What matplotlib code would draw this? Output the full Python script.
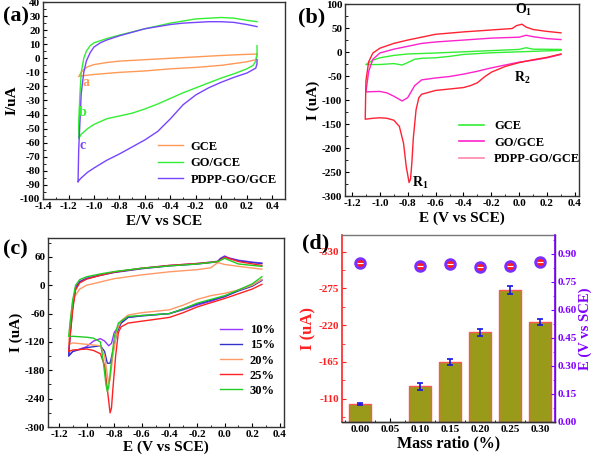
import matplotlib
matplotlib.use('Agg')
import matplotlib.pyplot as plt
from matplotlib.lines import Line2D
from matplotlib.ticker import MultipleLocator, FormatStrFormatter

# ---------------- data: panel (a) ----------------
a_gce_E = [0.28, 0.2, 0.0, -0.2, -0.4, -0.6, -0.8, -0.9, -1.0, -1.05, -1.08, -1.1, -1.12,
           -1.1, -1.0, -0.8, -0.6, -0.4, -0.2, 0.0, 0.2, 0.27, 0.28]
a_gce_I = [3, 2.8, 2, 1, 0, -1, -2, -3, -4.5, -6, -8, -10, -13,
           -12.5, -11.5, -10, -9, -7.5, -6.5, -5, -2.5, -1, 3]
a_go_E = [0.28, 0.2, 0.1, 0.0, -0.1, -0.2, -0.4, -0.6, -0.8, -0.9, -0.95, -1.0, -1.03, -1.06, -1.08,
          -1.1, -1.11, -1.12, -1.12, -1.1, -1.05, -1.0, -0.9, -0.8, -0.7, -0.6, -0.5, -0.4, -0.3,
          -0.2, -0.1, 0.0, 0.1, 0.2, 0.25, 0.27, 0.28, 0.28]
a_go_I = [26, 27, 28.5, 29, 28.5, 28, 25, 21, 16.5, 14, 12.5, 11, 9, 5, 0,
          -10, -25, -45, -57, -54, -50, -47, -43, -41, -39, -36, -32.5, -28.5, -24.5,
          -21, -17.5, -14, -11, -7.5, -5, -2, 2, 9]
a_pdpp_E = [0.28, 0.2, 0.1, 0.0, -0.1, -0.2, -0.3, -0.4, -0.6, -0.8, -0.9, -0.95, -1.0, -1.03, -1.06,
            -1.08, -1.1, -1.11, -1.12, -1.125, -1.12, -1.1, -1.05, -1.0, -0.9, -0.8, -0.7, -0.6,
            -0.5, -0.4, -0.3, -0.2, -0.1, 0.0, 0.1, 0.2, 0.27, 0.28, 0.28]
a_pdpp_I = [22.5, 24, 25.5, 26, 26, 25.5, 25, 24, 21, 16, 13, 11, 8, 4, -2,
            -10, -25, -45, -65, -88, -87, -85, -81, -78, -72.5, -68, -63, -58,
            -52, -43, -33, -26, -21, -17, -13.5, -10.5, -7, -4, -1]

# ---------------- data: panel (b) ----------------
b_gce_E = [0.3, 0.1, 0.05, 0.0, -0.2, -0.4, -0.6, -0.8, -0.9, -1.0, -1.05, -1.1,
           -1.0, -0.9, -0.84, -0.8, -0.75, -0.7, -0.6, -0.5, -0.4, -0.2, 0.0, 0.2, 0.3]
b_gce_I = [5.5, 6, 9, 5.5, 3, 0.5, -2, -4, -7, -12, -17, -26,
           -26, -24, -27, -22, -15, -13, -12, -9, -5, -1.5, 0.5, 2.5, 3.5]
b_go_E = [0.3, 0.2, 0.1, 0.05, 0.0, -0.2, -0.4, -0.6, -0.7, -0.8, -0.9, -1.0, -1.05, -1.08, -1.1,
          -1.0, -0.95, -0.9, -0.84, -0.8, -0.75, -0.7, -0.6, -0.5, -0.4, -0.3, -0.2, -0.1,
          0.0, 0.1, 0.2, 0.3]
b_go_I = [26, 28, 32, 35, 31, 29, 25, 21, 18, 12, 6, -2, -15, -40, -83,
          -82, -85, -92, -102, -95, -70, -58, -54, -51, -46, -40, -33, -27,
          -21, -17, -12, -5]
b_pdpp_E = [0.3, 0.2, 0.1, 0.05, 0.02, -0.02, -0.05, -0.2, -0.4, -0.6, -0.8, -0.9, -1.0, -1.05,
            -1.08, -1.1, -1.105, -1.05, -1.0, -0.95, -0.9, -0.86, -0.83, -0.81, -0.79, -0.78,
            -0.77, -0.76, -0.74, -0.72, -0.7, -0.6, -0.5, -0.4, -0.35, -0.3, -0.25, -0.2, -0.1,
            0.0, 0.1, 0.2, 0.3]
b_pdpp_I = [40, 43, 47, 52, 58, 55, 49, 46, 42, 37, 25, 18, 8, -2,
            -20, -60, -140, -138, -137, -138, -142, -155, -190, -240, -272, -265,
            -230, -180, -120, -95, -88, -80, -77, -74, -70, -64, -52, -42, -30,
            -22, -16, -11, -4]

# ---------------- data: panel (c) ----------------
c_labels = ['10%', '15%', '20%', '25%', '30%']
c10_E = [0.27, 0.2, 0.1, 0.03, 0.0, -0.03, -0.05, -0.1, -0.2, -0.4, -0.6, -0.8, -0.9, -1.0, -1.05,
         -1.08, -1.1, -1.12, -1.13, -1.1, -1.0, -0.95, -0.9, -0.87, -0.84, -0.82, -0.8, -0.75,
         -0.7, -0.6, -0.5, -0.4, -0.3, -0.2, -0.1, 0.0, 0.1, 0.2, 0.27]
c10_I = [47, 49, 53, 58, 62, 57, 51, 49, 46, 42, 36, 28, 22, 15, 8,
         -5, -40, -100, -148, -140, -130, -118, -113, -118, -128, -123, -100, -80,
         -68, -64, -62, -60, -52, -42, -34, -24, -10, 0, 12]
c15_E = [0.27, 0.2, 0.1, 0.03, 0.0, -0.03, -0.05, -0.1, -0.2, -0.4, -0.6, -0.8, -0.9, -1.0, -1.05,
         -1.08, -1.1, -1.12, -1.13, -1.1, -1.0, -0.9, -0.87, -0.85, -0.83, -0.81, -0.78, -0.75,
         -0.7, -0.6, -0.4, -0.3, -0.2, -0.1, 0.0, 0.1, 0.2, 0.27]
c15_I = [46, 48, 52, 57, 60, 56, 50, 48, 45, 41, 35, 27, 21, 14, 7,
         -6, -45, -105, -150, -140, -132, -128, -140, -165, -165, -140, -100, -80,
         -68, -65, -60, -50, -40, -32, -24, -12, -2, 10]
c20_E = [0.27, 0.1, 0.0, -0.05, -0.1, -0.2, -0.4, -0.6, -0.8, -0.9, -1.0, -1.05, -1.1, -1.12, -1.13,
         -1.1, -1.0, -0.9, -0.87, -0.85, -0.84, -0.83, -0.81, -0.78, -0.75, -0.7, -0.6, -0.4,
         -0.3, -0.2, -0.1, 0.0, 0.1, 0.2, 0.27]
c20_I = [34, 40, 44, 48, 37, 33, 28.5, 22, 14, 7, 0, -8, -30, -80, -125,
         -122, -125, -128, -150, -190, -208, -200, -150, -95, -75, -63, -58, -52,
         -42, -30, -22, -17, -10, 0, 12]
c25_E = [0.27, 0.1, 0.02, 0.0, -0.05, -0.2, -0.4, -0.6, -0.8, -0.9, -1.0, -1.05, -1.08, -1.1, -1.12,
         -1.13, -1.1, -1.0, -0.95, -0.9, -0.87, -0.85, -0.83, -0.82, -0.81, -0.79, -0.77, -0.75,
         -0.7, -0.6, -0.4, -0.3, -0.2, -0.1, 0.0, 0.1, 0.2, 0.27]
c25_I = [42, 50, 58, 59, 50, 46, 42, 36, 28, 21, 13, 5, -10, -50, -110,
         -140, -137, -135, -138, -145, -170, -220, -270, -260, -220, -150, -100, -88,
         -80, -76, -68, -58, -46, -37, -28, -18, -8, 2]
c30_E = [0.27, 0.1, 0.0, -0.05, -0.2, -0.4, -0.6, -0.8, -0.9, -1.0, -1.05, -1.08, -1.1, -1.12, -1.13,
         -1.1, -1.0, -0.95, -0.9, -0.88, -0.86, -0.85, -0.84, -0.82, -0.8, -0.77, -0.7, -0.6,
         -0.4, -0.3, -0.2, -0.1, 0.0, 0.1, 0.2, 0.27]
c30_I = [40, 45, 57, 50, 45, 41, 36, 29, 24, 18, 12, 0, -30, -80, -108,
         -108, -110, -112, -120, -160, -210, -225, -215, -160, -110, -80, -66, -64,
         -60, -50, -38, -30, -22, -10, 3, 18]

# ---------------- data: panel (d) ----------------
d_ratio = [0.00, 0.10, 0.15, 0.20, 0.25, 0.30]
d_current = [-102, -128.5, -165, -209.5, -272.5, -225]
d_current_err = [2, 5, 4, 5, 6, 5]
d_potential = [0.851, 0.836, 0.845, 0.831, 0.836, 0.855]
d_xticks = [0.00, 0.05, 0.10, 0.15, 0.20, 0.25, 0.30]

# ---------------- style ----------------
plt.rcParams.update({
    'font.family': ['Liberation Serif', 'DejaVu Serif'],
    'font.weight': 'bold',
    'axes.labelweight': 'bold',
    'axes.unicode_minus': False,
    'mathtext.default': 'regular',
    'xtick.direction': 'in',
    'ytick.direction': 'in',
    'font.size': 8,
    'axes.linewidth': 1.0,
    'axes.edgecolor': '#333333',
})

fig = plt.figure(figsize=(5.91, 4.57), dpi=100)


def style(ax, xmaj, xmin, ymaj, ymin, xfmt='%.1f'):
    ax.xaxis.set_major_locator(MultipleLocator(xmaj))
    ax.xaxis.set_minor_locator(MultipleLocator(xmin))
    ax.yaxis.set_major_locator(MultipleLocator(ymaj))
    ax.yaxis.set_minor_locator(MultipleLocator(ymin))
    ax.xaxis.set_major_formatter(FormatStrFormatter(xfmt))
    ax.tick_params(which='major', length=3, width=0.8, labelsize=8, pad=2)
    ax.tick_params(which='minor', length=1.8, width=0.6)
    for lab in ax.get_xticklabels() + ax.get_yticklabels():
        lab.set_fontweight('bold')


# ---------------- panel (a) ----------------
axa = fig.add_axes([0.0728, 0.5646, 0.4095, 0.431])
axa.plot(a_gce_E, a_gce_I, color='#FF9955', lw=1.0, label='GCE')
axa.plot(a_go_E, a_go_I, color='#33EE33', lw=1.0, label='GO/GCE')
axa.plot(a_pdpp_E, a_pdpp_I, color='#7744FF', lw=1.0, label='PDPP-GO/GCE')
axa.set_xlim(-1.4, 0.5)
axa.set_ylim(-100, 40)
style(axa, 0.2, 0.1, 10, 5)
axa.set_xlabel('E/V vs SCE', fontsize=11, labelpad=3)
axa.set_ylabel('I/uA', fontsize=11, labelpad=1)
axa.text(-1.06, -17.5, 'a', color='#FF9955', fontsize=10, ha='center', va='center')
axa.text(-1.09, -38.5, 'b', color='#33EE33', fontsize=10, ha='center', va='center')
axa.text(-1.09, -62, 'c', color='#7744FF', fontsize=10, ha='center', va='center')
axa.legend(loc='upper left', bbox_to_anchor=(0.44, 0.34), frameon=False, fontsize=9,
           handlelength=2.0, handletextpad=0.6, labelspacing=0.35, borderpad=0.2)
fig.text(0.005, 0.965, '(a)', fontsize=16, fontweight='bold', va='center')

# ---------------- panel (b) ----------------
axb = fig.add_axes([0.5838, 0.5711, 0.396, 0.420])
axb.plot(b_gce_E, b_gce_I, color='#33EE33', lw=1.0)
axb.plot(b_go_E, b_go_I, color='#FF22CC', lw=1.0)
axb.plot(b_pdpp_E, b_pdpp_I, color='#FF2233', lw=1.0)
axb.set_xlim(-1.25, 0.43)
axb.set_ylim(-300, 100)
style(axb, 0.2, 0.1, 50, 25)
axb.set_xlabel('E (V vs SCE)', fontsize=11, labelpad=3)
axb.set_ylabel('I (uA)', fontsize=11, labelpad=1)
axb.text(0.03, 72, 'O$_1$', fontsize=10, ha='center', va='bottom')
axb.text(0.02, -55, 'R$_2$', fontsize=10, ha='center', va='center')
axb.text(-0.71, -272, 'R$_1$', fontsize=10, ha='center', va='center')
b_handles = [Line2D([], [], color='#33EE33', lw=1.2),
             Line2D([], [], color='#FF22CC', lw=1.2),
             Line2D([], [], color='#FF88AA', lw=1.2)]
axb.legend(b_handles, ['GCE', 'GO/GCE', 'PDPP-GO/GCE'], loc='upper left',
           bbox_to_anchor=(0.45, 0.44), frameon=False, fontsize=9,
           handlelength=2.0, handletextpad=0.8, labelspacing=0.35, borderpad=0.2)
fig.text(0.505, 0.962, '(b)', fontsize=16, fontweight='bold', va='center')

# ---------------- panel (c) ----------------
axc = fig.add_axes([0.0812, 0.0656, 0.3993, 0.4136])
c_colors = ['#9933FF', '#3333CC', '#FF9966', '#FF2222', '#22CC22']
for E, I, col, lab in zip([c10_E, c15_E, c20_E, c25_E, c30_E],
                          [c10_I, c15_I, c20_I, c25_I, c30_I], c_colors, c_labels):
    axc.plot(E, I, color=col, lw=1.0, label=lab)
axc.set_xlim(-1.28, 0.43)
axc.set_ylim(-300, 100)
style(axc, 0.2, 0.1, 60, 30)
axc.set_xlabel('E (V vs SCE)', fontsize=11, labelpad=1)
axc.set_ylabel('I (uA)', fontsize=11, labelpad=1)
axc.legend(loc='upper left', bbox_to_anchor=(0.69, 0.59), frameon=False, fontsize=9,
           handlelength=1.8, handletextpad=0.6, labelspacing=0.25, borderpad=0.2)
fig.text(0.005, 0.455, '(c)', fontsize=16, fontweight='bold', va='center')

# ---------------- panel (d) ----------------
axd = fig.add_axes([0.5787, 0.0766, 0.3604, 0.409])
base = -75
axd.bar(d_ratio, [v - base for v in d_current], bottom=base, width=0.038,
        color='#9A9A1A', edgecolor='#FF5555', linewidth=1.0, zorder=2)
axd.errorbar(d_ratio, d_current, yerr=d_current_err, fmt='none', ecolor='#1515E0',
             elinewidth=1.2, capsize=2.5, capthick=1.2, zorder=3)
axd.set_xlim(-0.03, 0.325)
axd.set_ylim(-75, -355)
axd.set_xticks(d_xticks)
axd.xaxis.set_minor_locator(MultipleLocator(0.025))
axd.xaxis.set_major_formatter(FormatStrFormatter('%.2f'))
axd.yaxis.set_major_locator(MultipleLocator(55))
axd.yaxis.set_minor_locator(MultipleLocator(27.5))
axd.yaxis.set_major_formatter(FormatStrFormatter('%d'))
axd.tick_params(which='major', length=3, width=0.8, labelsize=8, pad=2)
axd.tick_params(which='minor', length=1.8, width=0.6)
axd.tick_params(axis='y', which='both', colors='#FF2222')
axd.spines['left'].set_color('#FF2222')
axd.spines['left'].set_linewidth(1.2)
axd.spines['top'].set_color('#777777')
axd.set_xlabel('Mass ratio (%)', fontsize=11.5, labelpad=1)
axd.set_ylabel('I (uA)', fontsize=12, color='#FF2222', labelpad=2)
for lab in axd.get_xticklabels() + axd.get_yticklabels():
    lab.set_fontweight('bold')

axd2 = axd.twinx()
axd2.plot(d_ratio, d_potential, linestyle='none', marker='o', markersize=7,
          markerfacecolor='#FF2020', markeredgecolor='#7B2FFF', markeredgewidth=2.0, zorder=4)
axd2.plot(d_ratio, d_potential, linestyle='none', marker='_', markersize=4,
          color='white', markeredgewidth=0.8, zorder=5)
axd2.set_ylim(0, 1.0)
axd2.yaxis.set_major_locator(MultipleLocator(0.15))
axd2.yaxis.set_minor_locator(MultipleLocator(0.075))
axd2.yaxis.set_major_formatter(FormatStrFormatter('%.2f'))
axd2.tick_params(which='major', length=3, width=0.8, labelsize=8, pad=2, colors='#8000FF')
axd2.tick_params(which='minor', length=1.8, width=0.6, colors='#8000FF')
axd2.spines['right'].set_color('#8000FF')
axd2.spines['right'].set_linewidth(1.2)
axd2.spines['left'].set_visible(False)
axd2.spines['top'].set_visible(False)
axd2.set_ylabel('E (V vs SCE)', fontsize=10.5, color='#8000FF', labelpad=1)
for lab in axd2.get_yticklabels():
    lab.set_fontweight('bold')
fig.text(0.511, 0.468, '(d)', fontsize=16, fontweight='bold', va='center')

fig.savefig('out.png', dpi=100)
